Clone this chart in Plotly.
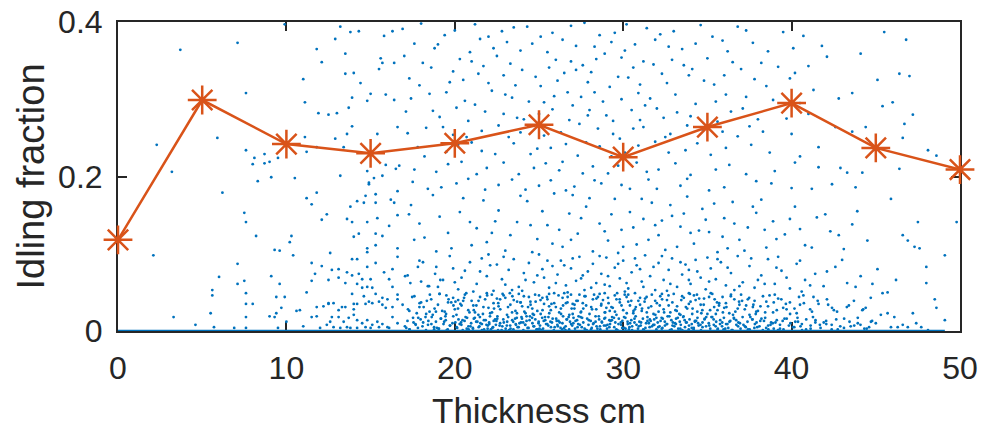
import plotly.graph_objects as go

# ---- line series (orange asterisks) ----
thickness = [0, 5, 10, 15, 20, 25, 30, 35, 40, 45, 50]
idling = [0.118, 0.299, 0.242, 0.230, 0.243, 0.267, 0.225, 0.264, 0.295, 0.237, 0.209]

x_ticks = [0, 10, 20, 30, 40, 50]
y_ticks = [0, 0.2, 0.4]
y_tick_text = ["0", "0.2", "0.4"]

# ---- scattered samples (blue dots) ----
zero_span = [0, 49.1]   # samples lying at exactly 0 form a line along the axis

dots_left = [
    (3.7, .364), (7.1, .373), (2.3, .241), (3.2, .206), (5.9, .250), (7.6, .308), (9.9, .397),
    (2.1, .098), (3.3, .018), (4.6, .008), (5.7, .005), (5.5, .023), (5.6, .053), (5.6, .046),
    (6.0, .070), (6.2, .179), (6.9, .004), (7.1, .087), (7.1, .061), (7.5, .153), (7.6, .141),
    (7.5, .065), (7.6, .049), (7.6, .035), (7.6, .018), (7.6, .004), (8.0, .035), (8.2, .123),
    (8.3, .194), (9.1, .071), (9.3, .105), (9.6, .104), (9.6, .061), (9.4, .044), (9.0, .019),
    (9.3, .018), (9.4, .023), (9.7, .030), (9.9, .044), (10.0, .012), (10.3, .123), (10.2, .115),
    (10.4, .098), (9.5, .004), (10.6, .026), (10.8, .027), (11.0, .006), (11.2, .172), (11.5, .164),
    (11.8, .179), (11.2, .050), (11.5, .065), (11.5, .088), (11.7, .074), (11.5, .018), (11.8, .019),
    (12.1, .144), (12.4, .151), (12.1, .084), (12.5, .066), (12.6, .101), (12.5, .035), (12.2, .032),
    (10.5, .198), (9.1, .199), (8.7, .229), (8.7, .217), (8.1, .224), (8.0, .216), (9.0, .219),
    (9.5, .224), (7.6, .234), (11.2, .232), (11.8, .238), (11.1, .251),
]

dots_mid_top = [
    (11.8, .365), (12.1, .348), (11.0, .326), (11.1, .296), (11.9, .282), (12.5, .280), (13.0, .282),
    (12.9, .249), (13.5, .359), (14.0, .334), (13.5, .333), (13.2, .394), (14.3, .388), (13.8, .387),
    (12.9, .378), (14.4, .321), (13.9, .302), (13.7, .289), (13.9, .265), (13.6, .255), (13.4, .238),
    (13.2, .201), (15.0, .307), (14.8, .298), (15.6, .353), (15.7, .347), (15.5, .339), (15.8, .382),
    (16.3, .388), (16.4, .347), (15.9, .306), (16.4, .299), (16.6, .264), (15.4, .255), (15.9, .215),
    (14.8, .207), (15.7, .201), (15.2, .198), (16.5, .210), (14.9, .190),
]

dots_mid_low = [
    (13.8, .161), (14.2, .168), (14.6, .166), (14.7, .175), (15.3, .177), (15.3, .166), (14.9, .192),
    (16.2, .170), (16.4, .166), (16.6, .181), (13.6, .145), (13.9, .141), (14.8, .141), (15.4, .146),
    (16.1, .136), (16.6, .150), (14.0, .122), (14.3, .126), (15.3, .126), (15.7, .123), (14.8, .107),
    (14.8, .102), (15.3, .111), (16.6, .107), (16.6, .096), (13.9, .093), (14.2, .093), (12.7, .079),
    (13.1, .080), (13.6, .076), (13.1, .069), (13.9, .072), (14.3, .074), (14.5, .067), (15.0, .067),
    (14.8, .083), (15.3, .088), (15.8, .076), (16.3, .080), (16.1, .067), (16.3, .057), (13.5, .062),
    (14.2, .061), (14.5, .056), (14.8, .057), (15.1, .056), (13.9, .048), (14.6, .045), (15.3, .048),
    (15.7, .043), (16.0, .041), (16.6, .047), (11.8, .031), (12.5, .036), (12.8, .036), (13.1, .027),
    (13.3, .031), (13.5, .031), (14.0, .035), (14.2, .035), (14.0, .028), (14.7, .035), (14.9, .038),
    (15.1, .036), (15.5, .038), (15.7, .034), (15.9, .030), (16.3, .031), (16.6, .041), (12.7, .018),
    (13.1, .018), (13.4, .012), (13.7, .017), (14.0, .021), (14.2, .014), (14.5, .010), (14.8, .014),
    (15.1, .008), (15.4, .012), (15.7, .009), (16.0, .005), (16.3, .018), (16.6, .010), (12.8, .005),
    (13.2, .004), (13.6, .005), (13.8, .004), (14.2, .004), (14.7, .005), (15.0, .004), (15.5, .005),
    (16.1, .004), (12.4, .008), (12.6, .012), (12.0, .004),
]

dots_upper = [
    (16.9, .391), (19.4, .383), (21.2, .397), (22.8, .388), (24.3, .394), (25.1, .381), (27.7, .399),
    (29.5, .386), (31.4, .392), (32.2, .384), (34.6, .396), (37.3, .389), (40.7, .382),
    (17.6, .372), (18.8, .366), (20.9, .361), (23.1, .374), (23.9, .363), (26.4, .377), (28.3, .368),
    (28.9, .359), (30.7, .371), (33.5, .365), (35.9, .376), (38.6, .362), (41.8, .369),
    (18.1, .347), (20.3, .352), (21.7, .343), (22.5, .356), (25.6, .341), (26.9, .349), (27.2, .338),
    (29.9, .354), (31.8, .345), (32.9, .351), (34.1, .339), (36.5, .348), (39.2, .342), (42.1, .355),
    (17.3, .327), (19.7, .322), (21.4, .333), (23.6, .318), (24.8, .329), (26.1, .324), (28.1, .335),
    (29.2, .316), (30.3, .328), (32.6, .321), (33.9, .331), (35.4, .319), (37.8, .326), (40.2, .334),
    (18.5, .307), (20.6, .298), (22.2, .311), (23.4, .302), (25.3, .296), (26.7, .309), (27.5, .303),
    (28.8, .297), (30.9, .308), (31.6, .301), (34.3, .294), (36.1, .306), (38.9, .299), (41.3, .312),
    (17.1, .284), (19.1, .277), (20.1, .289), (22.9, .281), (24.1, .274), (25.8, .287), (27.9, .279),
    (29.4, .272), (30.5, .286), (32.4, .276), (33.2, .283), (35.6, .271), (37.1, .288), (39.7, .275),
    (18.3, .263), (19.9, .254), (21.6, .259), (23.2, .251), (24.6, .266), (26.3, .257), (28.5, .262),
    (29.8, .249), (31.2, .264), (32.8, .255), (34.7, .261), (36.8, .252), (38.3, .258), (42.6, .264),
    (17.8, .238), (19.5, .232), (21.0, .244), (22.4, .229), (24.9, .236), (26.6, .242), (27.3, .227),
    (28.6, .239), (30.1, .231), (31.9, .245), (33.7, .234), (35.2, .228), (37.6, .241), (40.5, .226),
    (16.7, .214), (18.9, .206), (20.4, .219), (21.9, .211), (23.8, .203), (25.4, .217), (26.2, .208),
    (28.2, .213), (29.1, .204), (30.8, .218), (32.1, .209), (34.0, .202), (36.3, .215), (39.0, .207),
    (41.6, .212),
    (17.5, .193), (19.2, .186), (20.8, .197), (22.6, .189), (24.2, .183), (25.7, .195), (27.1, .187),
    (28.7, .191), (30.4, .184), (31.5, .196), (33.4, .188), (35.1, .182), (37.9, .194), (40.0, .185),
    (42.4, .190),
    (44.1, .359), (45.5, .387), (46.8, .377), (46.4, .333), (47.0, .330), (46.0, .296), (45.4, .291),
    (47.2, .280), (46.7, .268), (44.4, .264), (48.1, .234), (48.6, .227), (46.6, .250), (46.4, .210),
    (43.6, .308), (43.6, .258), (45.1, .325), (44.2, .205), (43.3, .205), (43.8, .186),
]

dots_upper_2 = [
    (18.0, .398), (20.0, .389), (22.0, .381), (23.5, .393), (25.8, .386), (26.9, .395), (28.6, .383),
    (30.2, .397), (33.0, .388), (35.3, .381), (36.8, .394), (39.5, .387),
    (17.0, .356), (19.0, .371), (21.5, .378), (22.3, .366), (24.6, .372), (25.5, .361), (27.2, .369),
    (29.3, .374), (30.1, .363), (31.9, .377), (32.7, .368), (34.3, .372), (36.2, .362), (37.7, .373),
    (40.1, .366),
    (18.6, .341), (19.9, .336), (21.0, .349), (23.3, .346), (24.0, .338), (26.0, .351), (27.6, .344),
    (28.4, .352), (30.6, .341), (31.2, .349), (33.6, .344), (35.0, .353), (37.0, .339), (38.2, .347),
    (41.0, .343),
    (17.9, .318), (20.5, .325), (22.0, .321), (22.9, .331), (25.1, .317), (26.5, .334), (27.9, .322),
    (29.7, .329), (31.0, .319), (32.3, .333), (34.8, .324), (36.0, .331), (38.5, .317), (39.9, .327),
    (17.4, .301), (19.5, .309), (21.2, .293), (23.0, .306), (24.4, .297), (25.9, .304), (27.0, .292),
    (28.3, .309), (29.9, .300), (31.3, .292), (33.1, .306), (35.5, .297), (37.3, .303), (40.5, .295),
    (42.8, .301),
    (18.7, .285), (20.8, .272), (21.8, .284), (23.7, .276), (25.0, .281), (26.8, .273), (28.0, .286),
    (29.0, .279), (31.0, .273), (32.0, .288), (34.0, .278), (36.4, .284), (38.0, .274), (41.0, .281),
    (17.2, .256), (19.3, .264), (20.7, .251), (22.6, .266), (23.9, .257), (25.3, .253), (27.4, .268),
    (29.4, .255), (30.6, .262), (32.5, .251), (33.8, .266), (35.9, .258), (37.5, .265), (40.0, .255),
    (18.2, .226), (20.2, .241), (21.6, .233), (23.5, .243), (24.5, .229), (25.7, .237), (27.8, .244),
    (29.3, .226), (30.9, .240), (32.7, .231), (34.4, .243), (36.1, .237), (38.7, .231), (41.6, .238),
    (17.6, .209), (19.6, .216), (21.3, .203), (22.9, .218), (24.7, .211), (26.4, .219), (27.6, .204),
    (29.7, .214), (31.4, .206), (33.1, .217), (35.5, .209), (37.3, .203), (40.2, .218), (42.9, .211),
    (18.4, .184), (20.1, .191), (21.8, .183), (23.4, .196), (25.0, .188), (26.6, .182), (28.3, .195),
    (29.9, .189), (32.0, .184), (33.8, .197), (36.0, .186), (38.8, .191), (41.2, .184),
]

dots_band_a = [
    (17.4, .163), (18.2, .121), (19.1, .148), (19.8, .107), (20.5, .172), (21.3, .133), (21.9, .115),
    (22.6, .156), (23.0, .104), (23.7, .141), (24.3, .168), (24.9, .119), (25.5, .137), (25.9, .178),
    (26.4, .109), (26.8, .152), (27.3, .126), (27.8, .161), (28.2, .103), (28.6, .139), (29.1, .117),
    (29.5, .171), (29.9, .131), (30.4, .154), (30.8, .112), (31.2, .145), (31.7, .166), (32.1, .124),
    (32.5, .105), (32.9, .149), (33.4, .135), (33.8, .174), (34.2, .113), (34.7, .158), (35.1, .128),
    (35.6, .102), (36.0, .146), (36.5, .167), (36.9, .118), (37.4, .134), (37.9, .153), (38.5, .108),
    (38.9, .142), (39.6, .125), (40.2, .161), (40.8, .111), (41.5, .147), (42.3, .129), (43.1, .106),
    (43.9, .155), (20.9, .141), (22.2, .127), (24.6, .102), (27.0, .176), (29.7, .101), (31.9, .137),
    (34.5, .130), (36.2, .107), (18.7, .176), (38.2, .170),
    (17.9, .139), (18.9, .103), (19.6, .127), (20.3, .154), (21.0, .111), (21.7, .169), (22.4, .142),
    (23.3, .124), (23.9, .175), (24.5, .137), (25.2, .155), (25.8, .113), (26.2, .131), (26.9, .118),
    (27.5, .146), (28.0, .172), (28.9, .129), (29.3, .151), (30.0, .109), (30.6, .134), (31.1, .171),
    (31.5, .118), (32.3, .143), (32.8, .163), (33.2, .109), (33.6, .152), (34.0, .127), (34.9, .144),
    (35.4, .165), (35.9, .122), (36.6, .139), (37.2, .104), (37.7, .161), (38.4, .131), (39.1, .119),
    (39.9, .145), (40.5, .132), (41.2, .108), (42.0, .151), (42.8, .124), (43.6, .138), (44.5, .117),
]

dots_band_b = [
    (17.2, .072), (17.9, .091), (18.4, .058), (18.9, .083), (19.3, .066), (19.7, .097), (20.2, .054),
    (20.6, .078), (20.9, .089), (21.3, .061), (21.6, .094), (21.9, .071), (22.3, .052), (22.5, .086),
    (22.8, .067), (23.2, .079), (23.5, .093), (23.8, .057), (24.1, .075), (24.4, .088), (24.7, .063),
    (25.0, .099), (25.3, .069), (25.6, .056), (25.8, .084), (26.1, .073), (26.3, .091), (26.6, .059),
    (26.9, .081), (27.2, .065), (27.4, .096), (27.7, .053), (27.9, .077), (28.2, .087), (28.4, .062),
    (28.7, .074), (29.0, .095), (29.2, .058), (29.5, .082), (29.8, .068), (30.0, .091), (30.3, .055),
    (30.5, .076), (30.8, .085), (31.1, .064), (31.3, .098), (31.6, .071), (31.9, .053), (32.1, .088),
    (32.4, .066), (32.7, .079), (32.9, .094), (33.2, .057), (33.5, .073), (33.7, .086), (34.0, .061),
    (34.3, .092), (34.6, .069), (34.9, .054), (35.2, .081), (35.5, .067), (35.8, .089), (36.1, .059),
    (36.4, .075), (36.8, .097), (37.1, .063), (37.5, .084), (37.8, .056), (38.2, .072), (38.6, .093),
    (39.0, .061), (39.4, .078), (39.9, .055), (40.3, .087), (40.8, .066), (41.4, .074), (41.9, .058),
    (42.6, .083), (43.3, .062), (44.1, .071),
    (20.0, .063), (21.1, .051), (22.0, .099), (23.0, .060), (24.0, .052), (25.2, .080), (26.7, .050),
    (27.6, .072), (28.9, .060), (30.1, .051), (31.0, .080), (32.6, .052), (33.9, .079), (35.0, .095),
    (36.6, .053), (38.0, .066), (39.2, .096), (40.6, .051),
    (18.0, .064), (19.0, .057), (19.9, .081), (20.4, .069), (21.5, .077), (22.1, .085), (22.9, .096),
    (23.4, .053), (24.2, .066), (24.9, .072), (25.5, .091), (26.0, .062), (26.5, .085), (27.0, .094),
    (27.5, .068), (28.1, .056), (28.6, .097), (29.1, .071), (29.7, .087), (30.2, .062), (30.7, .094),
    (31.2, .057), (31.8, .083), (32.3, .097), (32.8, .061), (33.4, .089), (33.9, .066), (34.4, .077),
    (35.1, .064), (35.6, .093), (36.2, .082), (36.9, .058), (37.6, .094), (38.4, .061), (39.1, .082),
    (39.7, .069), (40.5, .091), (41.1, .059), (42.1, .077), (43.0, .092), (43.8, .057),
]

dots_band_c = [
    (16.9, .034), (17.3, .026), (17.6, .045), (17.9, .031), (18.3, .022), (18.6, .041), (18.8, .029),
    (19.1, .048), (19.4, .025), (19.6, .037), (19.9, .043), (20.1, .021), (20.4, .033), (20.6, .047),
    (20.8, .027), (21.0, .039), (21.2, .024), (21.5, .044), (21.7, .031), (21.9, .049), (22.1, .023),
    (22.3, .036), (22.5, .042), (22.7, .028), (22.9, .046), (23.1, .021), (23.3, .034), (23.5, .040),
    (23.6, .026), (23.8, .048), (24.0, .032), (24.2, .023), (24.4, .044), (24.6, .029), (24.8, .038),
    (25.0, .046), (25.1, .022), (25.3, .035), (25.5, .041), (25.7, .027), (25.9, .049), (26.0, .031),
    (26.2, .024), (26.4, .043), (26.6, .036), (26.8, .021), (26.9, .047), (27.1, .029), (27.3, .039),
    (27.5, .025), (27.7, .045), (27.8, .033), (28.0, .022), (28.2, .041), (28.4, .028), (28.6, .048),
    (28.7, .035), (28.9, .024), (29.1, .043), (29.3, .031), (29.5, .046), (29.6, .021), (29.8, .037),
    (30.0, .027), (30.2, .044), (30.4, .033), (30.6, .023), (30.7, .049), (30.9, .039), (31.1, .026),
    (31.3, .042), (31.5, .030), (31.7, .047), (31.8, .022), (32.0, .036), (32.2, .045), (32.4, .028),
    (32.6, .040), (32.8, .024), (33.0, .048), (33.2, .032), (33.4, .021), (33.6, .043), (33.8, .029),
    (34.0, .038), (34.2, .046), (34.4, .025), (34.6, .034), (34.8, .042), (35.0, .022), (35.2, .049),
    (35.4, .031), (35.6, .027), (35.9, .044), (36.1, .036), (36.3, .023), (36.6, .041), (36.8, .029),
    (37.0, .047), (37.3, .033), (37.5, .021), (37.8, .039), (38.0, .026), (38.3, .045), (38.6, .032),
    (38.9, .024), (39.2, .042), (39.5, .030), (39.9, .037), (40.3, .023), (40.7, .046), (41.1, .028),
    (41.6, .035), (42.1, .041), (42.7, .025), (43.4, .033), (44.2, .027),
    (20.2, .040), (22.0, .030), (23.9, .037), (25.6, .032), (27.0, .035), (28.8, .040), (30.3, .038),
    (32.1, .025), (33.9, .049), (35.7, .036), (37.7, .031), (24.7, .021), (26.5, .049), (29.0, .030),
    (31.0, .034), (34.1, .022),
    (18.0, .037), (18.5, .025), (19.0, .034), (19.5, .046), (20.0, .028), (20.5, .039), (21.1, .033),
    (21.4, .021), (21.8, .041), (22.2, .047), (22.6, .032), (23.0, .043), (23.4, .024), (23.7, .038),
    (24.1, .045), (24.5, .034), (24.9, .026), (25.2, .043), (25.6, .048), (25.9, .036), (26.3, .029),
    (26.7, .044), (27.0, .022), (27.4, .047), (27.6, .036), (28.1, .031), (28.5, .044), (28.9, .049),
    (29.2, .026), (29.6, .041), (29.9, .033), (30.3, .047), (30.7, .028), (31.0, .043), (31.4, .024),
    (31.9, .039), (32.3, .048), (32.7, .033), (33.1, .027), (33.5, .045), (33.9, .035), (34.3, .040),
    (34.7, .027), (35.1, .044), (35.5, .022), (36.0, .030), (36.4, .047), (36.9, .034), (37.4, .041),
    (37.9, .025), (38.5, .038), (39.0, .047), (39.7, .028), (40.5, .034), (41.3, .044), (42.4, .030),
    (43.7, .039),
]

dots_band_d = [
    (17.04, .006), (17.19, .013), (17.31, .002), (17.52, .017), (17.66, .009), (17.81, .004), (17.97, .015),
    (18.12, .011), (18.29, .001), (18.41, .008), (18.63, .018), (18.77, .005), (18.88, .012), (19.06, .003),
    (19.17, .016), (19.33, .009), (19.46, .014), (19.58, .002), (19.72, .007), (19.91, .019),
    (20.03, .011), (20.14, .004), (20.22, .015), (20.39, .008), (20.47, .001), (20.58, .013), (20.73, .017),
    (20.81, .006), (20.97, .010), (21.08, .003), (21.13, .016), (21.27, .012), (21.42, .005), (21.49, .018),
    (21.61, .009), (21.74, .002), (21.83, .014), (21.96, .007), (22.04, .011), (22.09, .019),
    (22.23, .004), (22.31, .013), (22.44, .008), (22.52, .016), (22.57, .001), (22.69, .010), (22.82, .006),
    (22.88, .015), (23.02, .003), (23.11, .012), (23.17, .018), (23.29, .007), (23.41, .014), (23.48, .002),
    (23.62, .009), (23.68, .017), (23.79, .005), (23.93, .011), (23.99, .016), (24.07, .001),
    (24.18, .008), (24.26, .013), (24.38, .004), (24.46, .019), (24.61, .010), (24.67, .006), (24.78, .015),
    (24.92, .002), (24.98, .012), (25.06, .007), (25.19, .017), (25.24, .003), (25.37, .014), (25.49, .009),
    (25.56, .018), (25.71, .005), (25.77, .011), (25.88, .001), (26.02, .016), (26.09, .008),
    (26.16, .013), (26.28, .004), (26.39, .010), (26.43, .019), (26.58, .006), (26.66, .015), (26.79, .002),
    (26.84, .012), (26.97, .007), (27.05, .017), (27.14, .003), (27.26, .014), (27.33, .009), (27.47, .018),
    (27.54, .005), (27.63, .011), (27.78, .001), (27.86, .016), (27.94, .008), (28.07, .013),
    (28.13, .004), (28.24, .010), (28.36, .019), (28.42, .006), (28.57, .015), (28.64, .002), (28.73, .012),
    (28.86, .007), (28.93, .017), (29.04, .003), (29.18, .014), (29.22, .009), (29.34, .018), (29.47, .005),
    (29.53, .011), (29.66, .001), (29.74, .016), (29.87, .008), (29.95, .013), (30.06, .004),
    (30.13, .017), (30.27, .009), (30.34, .002), (30.48, .014), (30.53, .006), (30.67, .011), (30.74, .019),
    (30.88, .003), (30.96, .012), (31.04, .007), (31.17, .016), (31.23, .001), (31.36, .010), (31.44, .018),
    (31.57, .005), (31.63, .013), (31.78, .008), (31.84, .015), (31.97, .002), (32.05, .011),
    (32.16, .006), (32.28, .017), (32.33, .004), (32.47, .012), (32.58, .009), (32.64, .019), (32.77, .001),
    (32.86, .014), (32.93, .007), (33.08, .010), (33.14, .016), (33.27, .003), (33.36, .012), (33.42, .008),
    (33.56, .018), (33.67, .005), (33.73, .011), (33.89, .002), (33.94, .015), (34.07, .009),
    (34.19, .004), (34.26, .013), (34.41, .017), (34.48, .007), (34.62, .001), (34.71, .011), (34.83, .015),
    (34.92, .006), (35.08, .010), (35.17, .003), (35.29, .018), (35.38, .008), (35.52, .012), (35.61, .002),
    (35.76, .014), (35.87, .006), (35.98, .017), (36.11, .009), (36.24, .004), (36.36, .013),
    (36.49, .001), (36.58, .016), (36.72, .008), (36.84, .011), (36.97, .003), (37.09, .018), (37.23, .006),
    (37.38, .012), (37.51, .002), (37.67, .015), (37.82, .009), (37.96, .005), (38.14, .013), (38.29, .001),
    (38.43, .017), (38.61, .007), (38.78, .011), (38.94, .003), (39.12, .014), (39.31, .008),
    (39.52, .002), (39.71, .016), (39.93, .010), (40.16, .005), (40.38, .012), (40.62, .001), (40.87, .015),
    (41.13, .007), (41.41, .011), (41.72, .004), (42.05, .013), (42.38, .008), (42.74, .002), (43.12, .016),
    (43.51, .006), (43.93, .010), (44.32, .003), (44.71, .012),
]

dots_lower = [
    (17.12, .004), (17.55, .011), (17.83, .017), (17.31, .002), (17.68, .008), (17.22, .028), (17.91, .036),
    (17.47, .044), (17.74, .023), (17.36, .062), (17.81, .083), (17.05, .071), (17.59, .118), (17.28, .151),
    (18.08, .006), (18.43, .013), (18.77, .002), (18.26, .018), (18.61, .009), (18.94, .004), (18.15, .031),
    (18.52, .047), (18.88, .025), (18.34, .039), (18.69, .021), (18.47, .058), (18.11, .089), (18.83, .074),
    (19.03, .003), (19.37, .012), (19.71, .007), (19.18, .016), (19.52, .001), (19.86, .010), (19.44, .019),
    (19.25, .026), (19.63, .041), (19.92, .033), (19.09, .048), (19.48, .022), (19.79, .037), (19.14, .066),
    (20.11, .005), (20.46, .014), (20.82, .002), (20.29, .009), (20.64, .018), (20.93, .006), (20.37, .011),
    (20.71, .003), (20.19, .029), (20.55, .043), (20.87, .024), (20.33, .035), (20.68, .049), (20.04, .038),
    (21.07, .004), (21.34, .012), (21.61, .001), (21.88, .008), (21.19, .017), (21.46, .006), (21.73, .014),
    (21.95, .003), (21.52, .010), (21.13, .027), (21.41, .039), (21.67, .022), (21.92, .046), (21.28, .033),
    (22.14, .002), (22.39, .015), (22.66, .007), (22.91, .011), (22.27, .005), (22.53, .019), (22.78, .001),
    (22.05, .009), (22.47, .013), (22.21, .024), (22.58, .036), (22.84, .048), (22.33, .029), (22.69, .041),
    (23.09, .007), (23.31, .003), (23.58, .016), (23.84, .010), (23.22, .001), (23.47, .012), (23.73, .005),
    (23.96, .018), (23.63, .008), (23.16, .031), (23.42, .045), (23.69, .023), (23.91, .037), (23.27, .049),
    (24.06, .011), (24.32, .004), (24.59, .017), (24.85, .002), (24.18, .008), (24.44, .014), (24.71, .006),
    (24.97, .010), (24.26, .019), (24.13, .025), (24.49, .038), (24.77, .047), (24.35, .031), (24.63, .022),
    (25.03, .003), (25.28, .013), (25.55, .007), (25.81, .016), (25.14, .001), (25.42, .009), (25.68, .012),
    (25.93, .005), (25.36, .018), (25.21, .027), (25.47, .044), (25.74, .035), (25.09, .040), (25.61, .023),
    (26.12, .006), (26.38, .002), (26.64, .015), (26.91, .009), (26.23, .011), (26.49, .004), (26.76, .018),
    (26.05, .013), (26.57, .001), (26.31, .022), (26.69, .037), (26.94, .029), (26.16, .046), (26.43, .033),
    (27.04, .010), (27.29, .005), (27.56, .017), (27.83, .001), (27.17, .013), (27.43, .008), (27.71, .003),
    (27.96, .014), (27.35, .019), (27.11, .034), (27.48, .024), (27.76, .045), (27.22, .039), (27.63, .029),
    (28.09, .002), (28.36, .012), (28.62, .006), (28.88, .016), (28.21, .009), (28.47, .003), (28.74, .011),
    (28.97, .007), (28.55, .019), (28.15, .028), (28.41, .042), (28.69, .033), (28.93, .024), (28.27, .047),
    (29.07, .008), (29.33, .014), (29.59, .002), (29.86, .011), (29.18, .005), (29.45, .017), (29.72, .009),
    (29.94, .004), (29.25, .013), (29.13, .036), (29.51, .025), (29.79, .041), (29.38, .030), (29.64, .049),
    (30.14, .003), (30.41, .010), (30.67, .016), (30.93, .006), (30.26, .012), (30.53, .001), (30.79, .008),
    (30.05, .018), (30.37, .005), (30.21, .023), (30.48, .039), (30.75, .031), (30.09, .047), (30.61, .026),
    (31.06, .011), (31.32, .004), (31.58, .015), (31.85, .008), (31.19, .002), (31.44, .013), (31.71, .006),
    (31.97, .017), (31.52, .010), (31.12, .029), (31.39, .044), (31.66, .032), (31.91, .021), (31.27, .038),
    (32.08, .005), (32.35, .016), (32.61, .009), (32.87, .002), (32.22, .013), (32.48, .007), (32.74, .019),
    (32.95, .011), (32.29, .003), (32.17, .033), (32.43, .024), (32.69, .046), (32.92, .037), (32.31, .041),
    (33.13, .009), (33.39, .003), (33.65, .014), (33.91, .007), (33.24, .017), (33.51, .001), (33.77, .011),
    (33.04, .006), (33.58, .019), (33.18, .026), (33.45, .040), (33.72, .031), (33.96, .048), (33.33, .022),
    (34.07, .004), (34.33, .013), (34.59, .008), (34.84, .016), (34.18, .002), (34.45, .010), (34.71, .005),
    (34.93, .018), (34.26, .012), (34.12, .029), (34.51, .042), (34.78, .034), (34.38, .047), (34.64, .023),
    (35.11, .007), (35.37, .015), (35.62, .003), (35.88, .011), (35.24, .018), (35.49, .006), (35.75, .009),
    (35.96, .002), (35.16, .027), (35.43, .041), (35.69, .033), (35.92, .024), (35.29, .048), (35.57, .037),
    (36.06, .003), (36.31, .012), (36.57, .017), (36.82, .006), (36.19, .009), (36.44, .001), (36.71, .014),
    (36.93, .010), (36.13, .031), (36.39, .045), (36.66, .025), (36.88, .038), (36.52, .021),
    (37.14, .008), (37.41, .002), (37.67, .015), (37.92, .011), (37.28, .005), (37.55, .018), (37.79, .004),
    (37.22, .028), (37.48, .043), (37.73, .034), (37.06, .039), (37.87, .022),
    (38.09, .006), (38.36, .013), (38.62, .002), (38.88, .010), (38.21, .016), (38.49, .004), (38.75, .008),
    (38.15, .032), (38.43, .024), (38.69, .046), (38.94, .037),
    (39.04, .011), (39.31, .003), (39.58, .016), (39.84, .007), (39.19, .001), (39.47, .013), (39.12, .027),
    (39.39, .041), (39.66, .035), (39.91, .022),
    (40.08, .005), (40.35, .017), (40.61, .009), (40.86, .002), (40.22, .012), (40.53, .006), (40.17, .029),
    (40.44, .044), (40.73, .036),
    (41.13, .003), (41.42, .014), (41.68, .008), (41.91, .011), (41.27, .018), (41.21, .025), (41.55, .039),
    (42.06, .009), (42.38, .002), (42.65, .015), (42.89, .006), (42.17, .034), (42.51, .027),
    (43.11, .004), (43.44, .012), (43.72, .007), (43.93, .017), (43.28, .031),
    (44.09, .008), (44.46, .003), (44.78, .013), (44.25, .028),
]

dots_right = [
    (46.6, .124), (46.9, .117), (47.3, .109), (47.6, .107), (45.9, .171), (47.5, .141), (48.0, .083),
    (48.0, .062), (49.1, .098), (48.5, .041), (48.6, .030), (49.8, .141), (49.1, .014), (48.1, .001),
    (47.4, .010), (47.2, .023), (46.2, .066), (46.6, .008), (46.1, .018), (45.7, .023), (45.4, .049),
    (45.1, .080), (44.8, .061), (46.3, .005), (47.7, .005), (45.7, .050), (44.7, .043), (44.4, .030),
    (44.6, .005), (45.0, .010), (45.3, .021), (45.9, .005), (46.9, .005),
]

all_dots = (dots_left + dots_mid_top + dots_mid_low + dots_upper + dots_upper_2 + dots_band_a
            + dots_band_b + dots_band_c + dots_band_d + dots_lower + dots_right)
dot_x = [p[0] for p in all_dots]
dot_y = [p[1] for p in all_dots]

BLUE = "#0072BD"
ORANGE = "#D95319"
AXIS = "#262626"
FONT = "Liberation Sans, Arial, sans-serif"

fig = go.Figure()

fig.add_trace(go.Scatter(
    x=dot_x, y=dot_y, mode="markers",
    marker=dict(color=BLUE, size=2.8, line=dict(width=0)),
    showlegend=False, hoverinfo="skip",
))
fig.add_trace(go.Scatter(
    x=zero_span, y=[0, 0], mode="lines",
    line=dict(color=BLUE, width=2.5),
    showlegend=False, hoverinfo="skip", cliponaxis=False,
))
fig.add_trace(go.Scatter(
    x=thickness, y=idling, mode="lines+markers",
    line=dict(color=ORANGE, width=2.5),
    marker=dict(symbol="asterisk-open", size=24, color=ORANGE,
                line=dict(color=ORANGE, width=2.5)),
    showlegend=False, cliponaxis=False,
))

axis_common = dict(
    showgrid=False, zeroline=False, automargin=False,
    showline=True, linecolor=AXIS, linewidth=2, mirror="ticks",
    ticks="inside", ticklen=9, tickwidth=2, tickcolor=AXIS,
    tickfont=dict(family=FONT, size=32, color=AXIS),
    layer="below traces",
)

fig.update_xaxes(range=[0, 50], tickvals=x_ticks, ticklabelstandoff=8, **axis_common)
fig.update_yaxes(range=[0, 0.4], tickvals=y_ticks, ticktext=y_tick_text,
                 ticklabelstandoff=7, **axis_common)

fig.add_annotation(text="Thickness cm", xref="paper", yref="paper", x=0.5, y=0,
                   xanchor="center", yanchor="middle", yshift=-79, showarrow=False,
                   font=dict(family=FONT, size=35, color=AXIS))
fig.add_annotation(text="Idling fraction", xref="paper", yref="paper", x=0, y=0.5,
                   xanchor="center", yanchor="middle", xshift=-88, textangle=-90,
                   showarrow=False, font=dict(family=FONT, size=38, color=AXIS))

fig.update_layout(
    width=982, height=432,
    margin=dict(l=118, r=22, t=22, b=101),
    paper_bgcolor="white", plot_bgcolor="white",
    showlegend=False,
)

fig.write_html("out.html", config={"displayModeBar": False},
               post_script="document.body.style.margin='0px';")
